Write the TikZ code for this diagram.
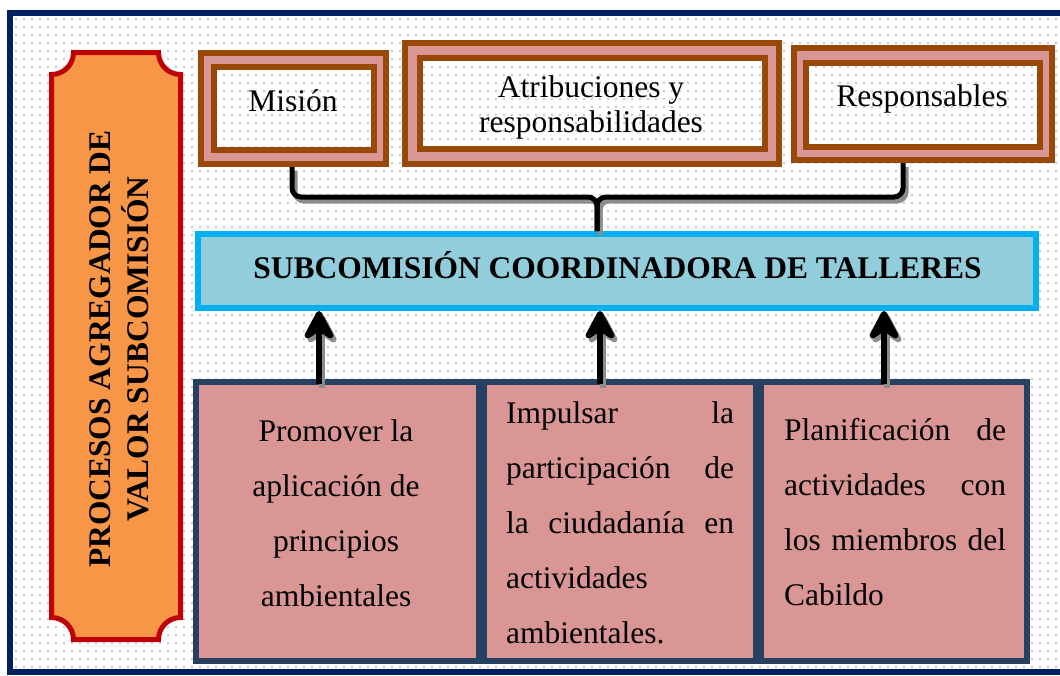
\documentclass[tikz,border=0pt]{standalone}
\usepackage{fontspec}
\setmainfont{Liberation Serif}
\usetikzlibrary{arrows.meta,patterns.meta}
\definecolor{navy}{RGB}{0,32,96}
\definecolor{dotc}{RGB}{192,176,220}
\definecolor{bannerfill}{RGB}{247,150,70}
\definecolor{bannerline}{RGB}{192,0,0}
\definecolor{brownc}{RGB}{152,72,7}
\definecolor{pinkc}{RGB}{217,150,148}
\definecolor{titlefill}{RGB}{146,205,220}
\definecolor{titleline}{RGB}{0,176,240}
\definecolor{boxline}{RGB}{38,64,98}
\definecolor{shadowc}{RGB}{140,140,140}
\newcommand\ctrline[2]{\hbox to #1{\hss #2\hss}}
\begin{document}
\begin{tikzpicture}[x=1pt,y=-1pt,
 bg/.style={preaction={fill=white}, pattern={Dots[distance=8pt,radius=1.15pt]}, pattern color=dotc},
 outerbox/.style={draw=brownc, line width=6pt, fill=pinkc, inner sep=0pt},
 innerbox/.style={draw=brownc, line width=6pt, bg, inner sep=0pt},
 titlebox/.style={draw=titleline, line width=6pt, fill=titlefill, inner sep=0pt},
 lowbox/.style={draw=boxline, line width=5.5pt, fill=pinkc, inner sep=0pt},
 txt/.style={inner sep=0pt, font=\fontsize{31.5}{38}\selectfont},
 btxt/.style={inner sep=0pt, font=\bfseries\fontsize{31.5}{38}\selectfont},
 bracel/.style={line width=5pt, rounded corners=9pt},
 arr/.style={line width=6.5pt, shorten <=-5pt, -{Stealth[length=36pt,width=38pt,inset=12pt,round]}},
 shadowlayer/.style={transform canvas={xshift=3pt,yshift=-4pt}}]
\useasboundingbox (0,0) rectangle (1060,675);
\fill[white] (0,0) rectangle (1060,675);
% outer frame with dotted background
\draw[draw=navy, line width=6pt, bg] (10,13) rectangle (1070,672);
% left banner
\draw[draw=bannerline, line width=5pt, fill=bannerfill]
  (73.5,52.5) -- (158.5,52.5) arc[start angle=180,end angle=90,radius=22]
  -- (180.5,617.5) arc[start angle=270,end angle=180,radius=22]
  -- (73.5,639.5) arc[start angle=0,end angle=-90,radius=22]
  -- (51.5,74.5) arc[start angle=90,end angle=0,radius=22] -- cycle;
\node[btxt, font=\bfseries\fontsize{31.5}{38}\selectfont, rotate=90, anchor=base] (bantxt) at (110,349)
  {\vtop{\baselineskip=38pt \ctrline{480pt}{PROCESOS AGREGADOR DE}\ctrline{480pt}{VALOR SUBCOMISIÓN}}};
% top boxes
\node[outerbox, minimum width=185pt, minimum height=111pt] (mision) at (293.5,108.5) {};
\node[innerbox, minimum width=160pt, minimum height=83pt] (misionin) at (294,108.5) {};
\node[txt, anchor=base] (misiontxt) at (293,111) {Misión};
\node[outerbox, minimum width=374pt, minimum height=121pt] (atrib) at (592,103.5) {};
\node[innerbox, minimum width=345pt, minimum height=91pt] (atribin) at (592.5,103.5) {};
\node[txt, anchor=base] (atribtxt) at (591,97)
  {\vtop{\baselineskip=35pt \ctrline{340pt}{Atribuciones y}\ctrline{340pt}{responsabilidades}}};
\node[outerbox, minimum width=258pt, minimum height=112pt] (resp) at (923,104) {};
\node[innerbox, minimum width=234pt, minimum height=84pt] (respin) at (923,105) {};
\node[txt, anchor=base] (resptxt) at (922,106) {Responsables};
% title
\node[titlebox, minimum width=838pt, minimum height=74pt] (title) at (617,271) {};
\node[btxt, anchor=base] (titletxt) at (617.5,278) {SUBCOMISIÓN COORDINADORA DE TALLERES};
% bottom boxes
\node[lowbox, minimum width=283pt, minimum height=279pt] (b1) at (337.5,521.5) {};
\node[lowbox, minimum width=272pt, minimum height=279pt] (b2) at (620,521.5) {};
\node[lowbox, minimum width=266pt, minimum height=279pt] (b3) at (894,521.5) {};
\node[txt, anchor=base] (t1) at (336,441)
  {\vtop{\baselineskip=55pt \ctrline{270pt}{Promover la}\ctrline{270pt}{aplicación de}\ctrline{270pt}{principios}\ctrline{270pt}{ambientales}}};
\node[txt, anchor=base west] (t2) at (506,423)
  {\vtop{\baselineskip=55pt \hbox to 228pt{Impulsar\hfill la}\hbox to 228pt{participación\hfill de}\hbox to 228pt{la\hfill ciudadanía\hfill en}\hbox{actividades}\hbox{ambientales.}}};
\node[txt, anchor=base west] (t3) at (784,440)
  {\vtop{\baselineskip=55pt \hbox to 222pt{Planificación\hfill de}\hbox to 222pt{actividades\hfill con}\hbox to 222pt{los\hfill miembros\hfill del}\hbox{Cabildo}}};
% helper coordinates
\coordinate (bl) at (292,197);
\coordinate (bm) at (597,197);
\coordinate (br) at (903,197);
\coordinate (a1) at (319,0);
\coordinate (a2) at (600,0);
\coordinate (a3) at (884,0);
% shadows
\begin{scope}[shadowlayer]
  \draw[bracel, draw=shadowc] (mision.south -| bl) -- (bl) -- (bm) -- (title.north -| bm);
  \draw[bracel, draw=shadowc] (resp.south -| br) -- (br) -- (bm) -- (title.north -| bm);
  \draw[arr, draw=shadowc] (b1.north -| a1) -- (title.south -| a1);
  \draw[arr, draw=shadowc] (b2.north -| a2) -- (title.south -| a2);
  \draw[arr, draw=shadowc] (b3.north -| a3) -- (title.south -| a3);
\end{scope}
% brace
\draw[bracel] (mision.south -| bl) -- (bl) -- (bm) -- (title.north -| bm);
\draw[bracel] (resp.south -| br) -- (br) -- (bm) -- (title.north -| bm);
% arrows
\draw[arr] (b1.north -| a1) -- (title.south -| a1);
\draw[arr] (b2.north -| a2) -- (title.south -| a2);
\draw[arr] (b3.north -| a3) -- (title.south -| a3);
\end{tikzpicture}
\end{document}
